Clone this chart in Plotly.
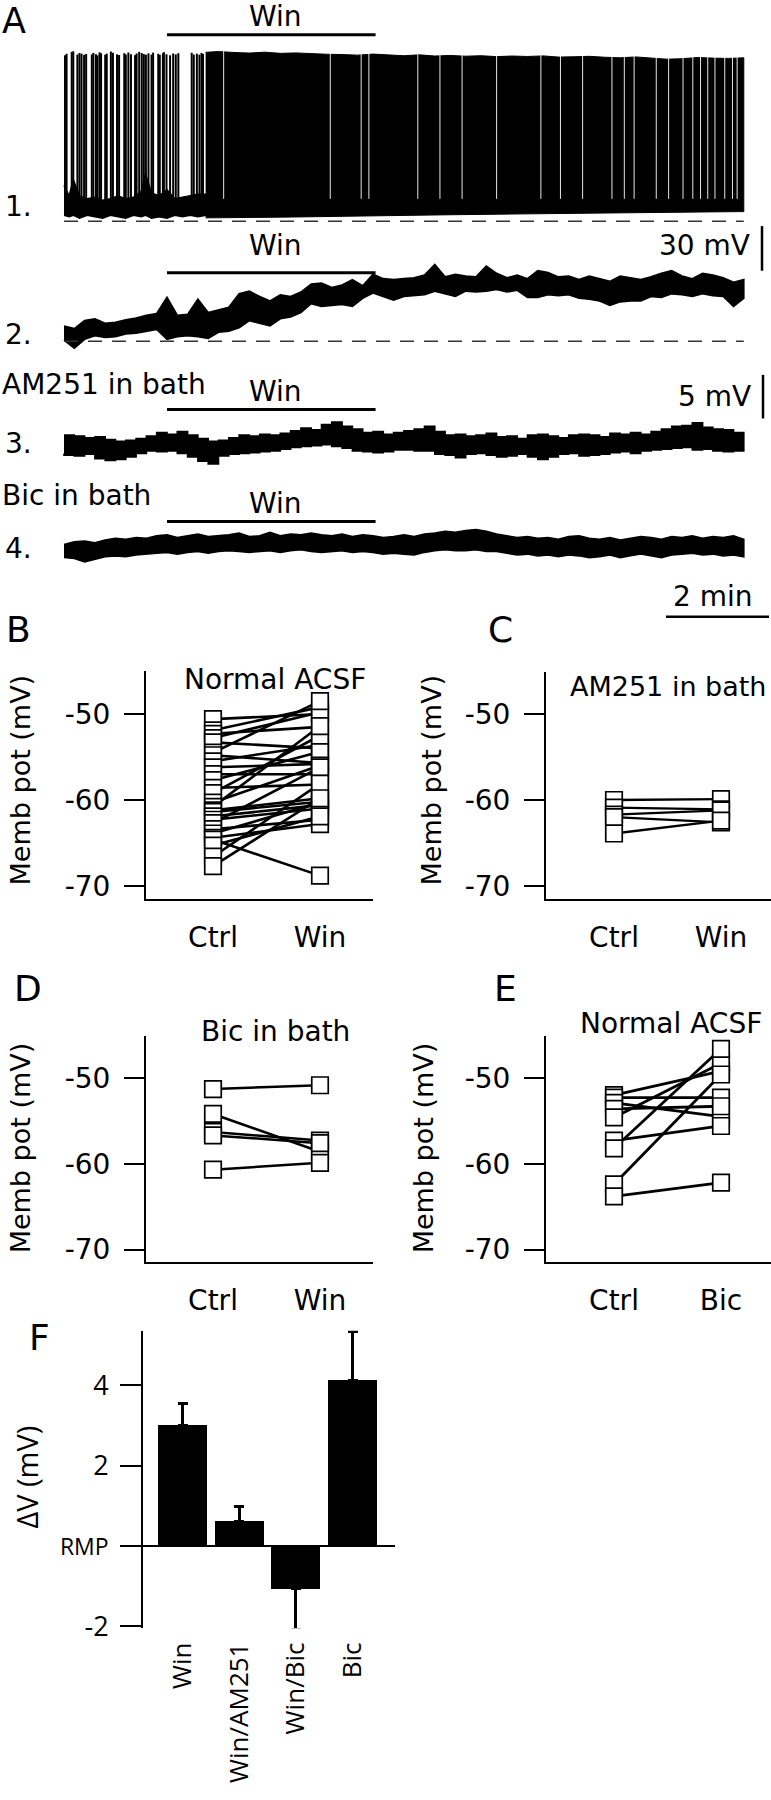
import plotly.graph_objects as go

W, H = 771, 1800
FONT = "DejaVu Sans"
FONT_F = "Open Sans"

# ---------------- data: panel A (time in min) ----------------
T_GRID = [round(0.2 * i, 1) for i in range(67)]
WIN_ON, WIN_OFF = 2.0, 6.05

# trace 1 (mV)
T1_REF = -70.0
T1_SPIKE_T = [0.02, 0.05, 0.15, 0.18, 0.26, 0.30, 0.34, 0.39, 0.43, 0.54, 0.57, 0.62, 0.65, 0.69, 0.72,
              0.80, 0.83, 0.91, 0.95, 1.03, 1.07, 1.17, 1.20, 1.25, 1.30, 1.38, 1.41, 1.46, 1.51, 1.55,
              1.59, 1.64, 1.70, 1.73, 1.83, 1.86, 1.92, 1.94, 1.99, 2.06, 2.12, 2.17, 2.22, 2.48, 2.52,
              2.58, 2.63, 2.67, 2.70]
T1_SPIKE_PK = [41.5, 42.5, 43.8, 44.2, 42.0, 43.0, 42.6, 41.8, 42.4, 42.0, 43.1, 42.2, 41.5, 43.5, 42.8,
               41.9, 42.6, 44.0, 43.2, 42.1, 41.7, 42.9, 42.0, 43.4, 42.2, 41.6, 42.7, 43.8, 43.0, 42.3,
               41.9, 42.8, 42.0, 43.3, 42.5, 41.8, 42.9, 43.6, 42.2, 41.5, 42.7, 42.1, 42.9, 43.2, 42.0,
               42.6, 41.9, 43.1, 42.4]
T1_SPIKE_BASE = -61.0
T1_BASE_T = [0.0, 0.1, 0.18, 0.3, 0.45, 0.6, 0.75, 0.9, 1.05, 1.2, 1.35, 1.5, 1.58, 1.7, 1.85, 2.0,
             2.15, 2.3, 2.45, 2.6, 2.78]
T1_BASE_UP = [-46, -53, -42, -53, -55, -54, -56, -55, -53, -55, -54, -50, -38, -51, -53, -49,
              -55, -54, -53, -52, -52]
T1_BASE_LO = [-66, -67, -66, -68, -66, -67, -68, -66, -67, -68, -66, -67, -66, -68, -67, -68,
              -66, -67, -66, -67, -66]
T1_DENSE_T = [2.75, 3.0, 3.3, 3.6, 3.9, 4.2, 4.5, 4.8, 5.1, 5.4, 5.7, 6.0, 6.3, 6.6, 6.9, 7.2, 7.5, 7.8,
              8.1, 8.4, 8.7, 9.0, 9.3, 9.6, 9.9, 10.2, 10.5, 10.8, 11.1, 11.4, 11.7, 12.0, 12.3, 12.6,
              12.9, 13.2]
T1_DENSE_TOP = [43.5, 44.0, 43.4, 43.0, 43.6, 42.8, 43.1, 42.5, 42.2, 42.0, 41.6, 42.3, 41.5, 41.2,
                41.8, 41.0, 41.4, 40.9, 41.2, 40.6, 41.0, 40.7, 41.1, 40.3, 40.5, 40.8, 40.2, 39.8,
                40.4, 39.5, 38.9, 39.2, 40.0, 39.6, 39.4, 39.8]
T1_DENSE_BOT_T = [2.75, 3.5, 4.5, 5.5, 6.5, 7.5, 8.5, 9.5, 10.5, 11.5, 12.5, 13.2]
T1_DENSE_BOT = [-67.8, -67.5, -67.2, -66.7, -66.0, -65.7, -65.3, -65.0, -64.6, -64.3, -63.8, -63.6]
T1_GAP_T = [3.10, 5.17, 5.77, 5.92, 6.87, 7.30, 7.73, 8.40, 9.26, 9.64, 10.07, 10.64, 10.88, 11.07,
            11.50, 11.74, 12.02, 12.21, 12.36, 12.50, 12.64, 12.83, 12.98, 13.07]
T1_GAP_LO, T1_GAP_HI = -55.0, 46.0

# traces 2-4: upper / lower envelopes (mV relative to start level)
T2_UP = [1.7, 1.4, 2.3, 2.5, 2.0, 2.1, 2.4, 2.6, 2.9, 3.1, 4.9, 2.9, 3.0, 4.7, 3.2, 3.5, 3.8, 5.3, 5.6,
         5.0, 4.5, 5.2, 5.0, 5.5, 6.4, 6.5, 6.0, 6.3, 6.9, 6.2, 7.5, 7.0, 6.9, 7.0, 7.1, 7.4, 8.6, 7.2,
         7.5, 7.3, 7.2, 8.4, 7.6, 7.1, 7.4, 7.0, 7.9, 7.7, 7.2, 7.3, 6.9, 7.3, 7.0, 6.7, 7.3, 7.1, 6.9,
         7.2, 7.6, 7.9, 7.3, 7.0, 7.6, 7.4, 7.1, 6.6, 6.9]
T2_LO = [0.1, -0.8, 0.2, 0.6, 0.4, 0.5, 0.8, 0.9, 1.1, 1.3, 0.2, 0.5, 0.6, 0.5, 0.3, 1.0, 1.1, 1.5, 2.3,
         2.0, 1.7, 2.5, 2.7, 3.2, 4.2, 3.9, 4.0, 4.1, 3.9, 4.8, 5.4, 5.0, 4.6, 5.0, 5.1, 5.2, 5.6, 5.3,
         5.0, 5.6, 5.5, 5.6, 5.8, 5.5, 5.7, 4.9, 4.9, 5.2, 5.1, 5.2, 4.8, 4.7, 4.5, 4.0, 4.4, 4.5, 4.5,
         5.0, 4.9, 5.3, 5.2, 5.0, 5.3, 5.1, 5.0, 3.9, 4.8]
T3_UP = [0.9, 0.8, 0.6, 0.7, 0.4, 0.2, 0.3, 0.5, 0.8, 1.2, 1.0, 1.3, 0.9, 0.5, 0.2, 0.3, 0.6, 0.9, 0.8,
         1.0, 0.9, 1.1, 1.4, 1.7, 1.5, 2.1, 2.4, 1.9, 1.6, 1.2, 1.3, 1.0, 1.2, 1.4, 1.6, 1.9, 1.3, 0.9,
         1.0, 0.8, 0.9, 1.1, 0.7, 0.8, 0.5, 0.9, 1.0, 0.8, 0.6, 0.9, 1.0, 0.9, 0.7, 1.1, 1.0, 1.2, 1.0,
         1.3, 1.6, 1.9, 2.0, 2.3, 1.8, 1.6, 1.5, 1.2, 1.1]
T3_LO = [-1.2, -1.4, -1.5, -1.3, -1.8, -2.0, -1.9, -1.6, -1.2, -0.9, -1.0, -0.9, -1.2, -1.6, -2.1, -2.4,
         -1.5, -1.3, -1.2, -1.1, -1.0, -0.9, -0.7, -0.5, -0.4, -0.3, -0.2, -0.4, -0.6, -0.9, -1.0, -1.1,
         -1.0, -0.8, -0.8, -0.9, -0.9, -1.3, -1.4, -1.7, -1.3, -1.2, -1.4, -1.6, -1.5, -1.3, -1.6, -1.9,
         -1.6, -1.3, -1.2, -1.5, -1.4, -1.3, -1.1, -1.0, -1.2, -0.9, -0.8, -0.7, -0.6, -0.5, -0.8, -0.7,
         -0.9, -1.0, -0.9]
T4_UP = [0.3, 0.6, 0.7, 0.5, 0.8, 1.0, 0.9, 1.1, 1.0, 1.3, 1.4, 1.1, 1.3, 1.5, 1.2, 1.3, 1.4, 1.6, 1.2,
         1.3, 1.7, 1.3, 1.5, 1.4, 1.6, 1.4, 1.3, 1.5, 1.2, 1.4, 1.3, 1.1, 1.2, 1.4, 1.2, 1.5, 1.6, 1.8,
         1.7, 1.9, 2.0, 1.8, 1.5, 1.3, 1.1, 1.2, 1.0, 1.1, 0.9, 1.2, 1.3, 1.0, 0.9, 1.1, 0.8, 1.0, 1.2,
         1.1, 0.9, 1.2, 1.1, 1.3, 1.0, 1.2, 1.1, 1.3, 0.9]
T4_LO = [-1.2, -1.3, -1.7, -1.4, -1.1, -1.0, -1.1, -0.9, -0.8, -0.7, -0.6, -0.8, -0.6, -0.5, -0.7, -0.5,
         -0.4, -0.5, -0.6, -0.5, -0.4, -0.6, -0.4, -0.3, -0.5, -0.6, -0.5, -0.4, -0.6, -0.5, -0.6, -0.8,
         -0.7, -0.8, -0.9, -0.6, -0.4, -0.3, -0.4, -0.4, -0.3, -0.5, -0.5, -0.7, -0.9, -0.8, -1.0, -0.9,
         -1.1, -0.9, -1.0, -1.2, -1.1, -0.9, -1.2, -1.0, -0.8, -1.0, -1.2, -0.9, -0.8, -0.7, -0.9, -0.8,
         -1.0, -0.9, -1.1]
SCALE_V1, SCALE_V2, SCALE_T = 30, 5, 2   # scale bars: mV, mV, min

# ---------------- data: panels B-E (membrane potential, mV) ----------------
PAIR_LABELS = ["Ctrl", "Win"]
B_CTRL = [-50.6, -51.9, -52.3, -52.8, -53.3, -54.5, -54.8, -55.5, -56.2, -57.0, -57.7, -58.6, -59.2,
          -60.3, -60.8, -61.2, -61.4, -61.9, -62.3, -62.7, -63.4, -63.9, -64.4, -64.6, -65.3, -66.6, -67.7]
B_WIN = [-50.0, -49.2, -51.5, -49.8, -54.0, -48.5, -55.7, -53.6, -55.8, -57.0, -54.4, -58.2, -52.5,
         -56.0, -51.4, -59.8, -60.2, -60.6, -61.0, -56.2, -62.3, -60.3, -62.8, -68.8, -61.9, -58.1, -59.8]
C_CTRL = [-60.0, -60.9, -61.7, -62.0, -63.9]
C_WIN = [-59.9, -61.1, -61.2, -62.6, -62.4]
D_CTRL = [-51.3, -54.2, -56.3, -56.7, -60.7]
D_WIN = [-50.85, -58.6, -57.3, -57.6, -59.9]
E_LABELS = ["Ctrl", "Bic"]
E_CTRL = [-52.0, -52.3, -52.9, -53.6, -54.6, -57.3, -58.2, -62.4, -63.8]
E_BIC = [-49.2, -52.3, -54.5, -53.3, -48.3, -55.6, -46.6, -49.6, -62.2]
MP_TICKS = [-70, -60, -50]

# ---------------- data: panel F ----------------
F_CATS = ["Win", "Win/AM251", "Win/Bic", "Bic"]
F_MEAN = [3.01, 0.62, -1.06, 4.13]
F_SEM = [0.55, 0.37, 1.01, 1.21]
F_TICKS = [-2, 0, 2, 4]
F_TICKTEXT = ["-2", '<span style="font-size:23px">RMP</span>', "2", "4"]


# ---------------- geometry helpers (pixel layout) ----------------
def h_axis(left, right, ref_px, ref_val, ppu):
    return dict(domain=[left / W, right / W],
                range=[ref_val - (ref_px - left) / ppu, ref_val + (right - ref_px) / ppu])


def v_axis(top, bot, ref_px, ref_val, ppu):
    return dict(domain=[1 - bot / H, 1 - top / H],
                range=[ref_val - (bot - ref_px) / ppu, ref_val + (ref_px - top) / ppu])


A_T0, A_PPM = 64, 51.5          # time axis: px of t=0, px per minute
A1 = (223, T1_REF, 1.5)         # trace 1: px of ref, value, px/mV
A2 = (344, 0.0, 9.0)
A3 = (446.7, 0.0, 8.8)
A4 = (551.7, 0.0, 8.8)


def t_at(px):
    return (px - A_T0) / A_PPM


def py(p):
    return 1 - p / H


def pxx(p):
    return p / W


fig = go.Figure()

# ---------------- panel A traces ----------------
fig.add_trace(go.Scatter(x=T1_BASE_T + T1_BASE_T[::-1], y=T1_BASE_UP + T1_BASE_LO[::-1],
                         fill="toself", fillcolor="black", mode="lines",
                         line=dict(color="black", width=1.5), xaxis="x", yaxis="y"))
sx, sy = [], []
for t, pk in zip(T1_SPIKE_T, T1_SPIKE_PK):
    sx += [t, t, None]
    sy += [T1_SPIKE_BASE, pk, None]
fig.add_trace(go.Scatter(x=sx, y=sy, mode="lines", line=dict(color="black", width=2),
                         xaxis="x", yaxis="y"))
fig.add_trace(go.Scatter(x=T1_DENSE_T + T1_DENSE_BOT_T[::-1], y=T1_DENSE_TOP + T1_DENSE_BOT[::-1],
                         fill="toself", fillcolor="black", mode="lines",
                         line=dict(color="black", width=1), xaxis="x", yaxis="y"))
gx, gy = [], []
for t in T1_GAP_T:
    gx += [t, t, None]
    gy += [T1_GAP_LO, T1_GAP_HI, None]
fig.add_trace(go.Scatter(x=gx, y=gy, mode="lines", line=dict(color="white", width=0.9),
                         xaxis="x", yaxis="y"))
fig.add_trace(go.Scatter(x=[T_GRID[0], T_GRID[-1]], y=[T1_REF, T1_REF], mode="lines",
                         line=dict(color="#333333", width=1.5, dash="14px,10px"), xaxis="x", yaxis="y"))

for up, lo, ya, shape in [(T2_UP, T2_LO, "y2", "linear"), (T3_UP, T3_LO, "y3", "hv"),
                          (T4_UP, T4_LO, "y4", "linear")]:
    fig.add_trace(go.Scatter(x=T_GRID + T_GRID[::-1], y=up + lo[::-1], fill="toself",
                             fillcolor="black", mode="lines",
                             line=dict(color="black", width=1.6, shape=shape),
                             xaxis="x", yaxis=ya))
fig.add_trace(go.Scatter(x=[T_GRID[0], T_GRID[-1]], y=[0, 0], mode="lines",
                         line=dict(color="#333333", width=1.5, dash="14px,10px"), xaxis="x", yaxis="y2"))


# ---------------- panels B-E ----------------
def pair_panel(ctrl, post, xa, ya, lw):
    lx, ly = [], []
    for c, p in zip(ctrl, post):
        lx += [0, 1, None]
        ly += [c, p, None]
    fig.add_trace(go.Scatter(x=lx, y=ly, mode="lines", line=dict(color="black", width=lw),
                             xaxis=xa, yaxis=ya, cliponaxis=False))
    for xv, vals in [(0, ctrl), (1, post)]:
        fig.add_trace(go.Scatter(x=[xv] * len(vals), y=vals, mode="markers",
                                 marker=dict(symbol="square", size=16.5, color="white",
                                             line=dict(color="black", width=1.7)),
                                 xaxis=xa, yaxis=ya, cliponaxis=False))


pair_panel(B_CTRL, B_WIN, "x5", "y5", 2.6)
pair_panel(C_CTRL, C_WIN, "x6", "y6", 2.3)
pair_panel(D_CTRL, D_WIN, "x7", "y7", 2.5)
pair_panel(E_CTRL, E_BIC, "x8", "y8", 2.8)

# ---------------- panel F ----------------
plus = [s if m >= 0 else 0 for m, s in zip(F_MEAN, F_SEM)]
minus = [s if m < 0 else 0 for m, s in zip(F_MEAN, F_SEM)]
fig.add_trace(go.Bar(x=list(range(len(F_CATS))), y=F_MEAN, width=0.865,
                     marker=dict(color="black", line=dict(width=0)),
                     error_y=dict(type="data", symmetric=False, array=plus, arrayminus=minus,
                                  color="black", thickness=3, width=5),
                     xaxis="x9", yaxis="y9"))

# ---------------- axes ----------------
hidden = dict(visible=False, showgrid=False, zeroline=False, fixedrange=True)
layout = dict(
    xaxis={**h_axis(0, W, A_T0, 0, A_PPM), **hidden, "anchor": "y"},
    yaxis={**v_axis(0, 630, *A1), **hidden, "anchor": "x"},
    yaxis2={**v_axis(0, 630, *A2), **hidden, "anchor": "x", "overlaying": "y"},
    yaxis3={**v_axis(0, 630, *A3), **hidden, "anchor": "x", "overlaying": "y"},
    yaxis4={**v_axis(0, 630, *A4), **hidden, "anchor": "x", "overlaying": "y"},
)


def y_style():
    return dict(showline=True, linewidth=2, linecolor="black", ticks="outside", ticklen=20,
                tickwidth=2, tickcolor="black", tickvals=MP_TICKS, ticktext=[str(v) for v in MP_TICKS],
                tickfont=dict(family=FONT, size=28, color="black"), showgrid=False, zeroline=False,
                ticklabelstandoff=8)


def x_style(labels):
    return dict(showline=True, linewidth=2, linecolor="black", ticks="", tickvals=[0, 1],
                ticktext=labels, tickfont=dict(family=FONT, size=28, color="black"),
                showgrid=False, zeroline=False, ticklabelstandoff=12)


panels = [(5, 146, 373, 213, 677, 907, 720, 8.67, PAIR_LABELS),
          (6, 546, 771, 614, 678, 907, 720, 8.67, PAIR_LABELS),
          (7, 146, 373, 213, 1045, 1273, 1087, 8.65, PAIR_LABELS),
          (8, 546, 771, 614, 1045, 1273, 1087, 8.65, E_LABELS)]
for n, l, r, xref, top, bot, yref, ppu, labels in panels:
    layout[f"xaxis{n}"] = {**h_axis(l, r, xref, 0, 107), **x_style(labels), "anchor": f"y{n}"}
    layout[f"yaxis{n}"] = {**v_axis(top, bot, yref, -50, ppu), **y_style(), "anchor": f"x{n}"}

layout["xaxis9"] = {**h_axis(143, 395, 182.5, 0, 56.7), "anchor": "y9", "showline": False,
                    "ticks": "", "tickangle": -90, "tickvals": list(range(len(F_CATS))),
                    "ticktext": F_CATS, "tickfont": dict(family=FONT_F, size=26, color="black"),
                    "showgrid": False, "zeroline": False, "ticklabelstandoff": 8}
layout["yaxis9"] = {**v_axis(1342, 1642, 1559, 0, 40.5), "anchor": "x9", "showline": True,
                    "linewidth": 2, "linecolor": "black", "ticks": "outside", "ticklen": 21,
                    "tickwidth": 2, "tickcolor": "black", "tickvals": F_TICKS, "ticktext": F_TICKTEXT,
                    "tickfont": dict(family=FONT_F, size=27, color="black"), "showgrid": False,
                    "zeroline": True, "zerolinewidth": 2, "zerolinecolor": "black",
                    "ticklabelstandoff": 6}

# ---------------- shapes: stimulus bars and scale bars ----------------
shapes = []
for ypx in [35, 275, 413, 526]:
    shapes.append(dict(type="line", xref="x", yref="paper", x0=WIN_ON, x1=WIN_OFF,
                       y0=py(ypx), y1=py(ypx), line=dict(color="black", width=3)))
shapes.append(dict(type="line", xref="paper", yref="paper", x0=pxx(762), x1=pxx(762),
                   y0=py(273), y1=py(273 - SCALE_V1 * A1[2]), line=dict(color="black", width=2.5)))
shapes.append(dict(type="line", xref="paper", yref="paper", x0=pxx(763), x1=pxx(763),
                   y0=py(422), y1=py(422 - SCALE_V2 * A3[2]), line=dict(color="black", width=2.5)))
shapes.append(dict(type="line", xref="x", yref="paper", x0=t_at(666), x1=t_at(666) + SCALE_T,
                   y0=py(622), y1=py(622), line=dict(color="black", width=2.5)))
layout["shapes"] = shapes

# ---------------- annotations ----------------
anns = []


def ann(text, x, y, size, xanchor="center", angle=0, family=FONT):
    anns.append(dict(text=text, x=pxx(x), y=py(y), xref="paper", yref="paper", showarrow=False,
                     xanchor=xanchor, yanchor="middle", textangle=angle,
                     font=dict(family=family, size=size, color="black")))


ann("A", 0, 21, 35, "left")
for yy in [17, 248, 395, 508]:
    ann("Win", 275, yy, 28)
ann("1.", 3, 208, 28, "left")
ann("2.", 3, 337, 28, "left")
ann("3.", 3, 447, 28, "left")
ann("4.", 3, 553, 28, "left")
ann(f"{SCALE_V1} mV", 752, 248, 28, "right")
ann("AM251 in bath", 0, 388, 28, "left")
ann(f"{SCALE_V2} mV", 753, 400, 28, "right")
ann("Bic in bath", 0, 500, 28, "left")
ann(f"{SCALE_T} min", 713, 602, 28)

ann("B", 4, 635, 36, "left")
ann("C", 486, 635, 36, "left")
ann("D", 12, 997, 36, "left")
ann("E", 492, 997, 36, "left")
ann("F", 27, 1349, 36, "left")

ann("Normal ACSF", 275, 685, 28)
ann("AM251 in bath", 768, 692, 27, "right")
ann("Bic in bath", 275, 1040, 28)
ann("Normal ACSF", 671, 1032, 28)
for xx, yy in [(20, 787), (431, 787), (20, 1158), (423, 1158)]:
    ann("Memb pot (mV)", xx, yy, 27, angle=-90)
ann("ΔV (mV)", 27, 1490, 29, angle=-90, family=FONT_F)
layout["annotations"] = anns

fig.update_layout(**layout)
fig.update_layout(width=W, height=H, margin=dict(l=0, r=0, t=0, b=0), showlegend=False,
                  paper_bgcolor="white", plot_bgcolor="white", bargap=0)
fig.write_html("out.html", config={"displayModeBar": False},
               post_script="document.body.style.margin='0';document.body.style.overflow='hidden';")
